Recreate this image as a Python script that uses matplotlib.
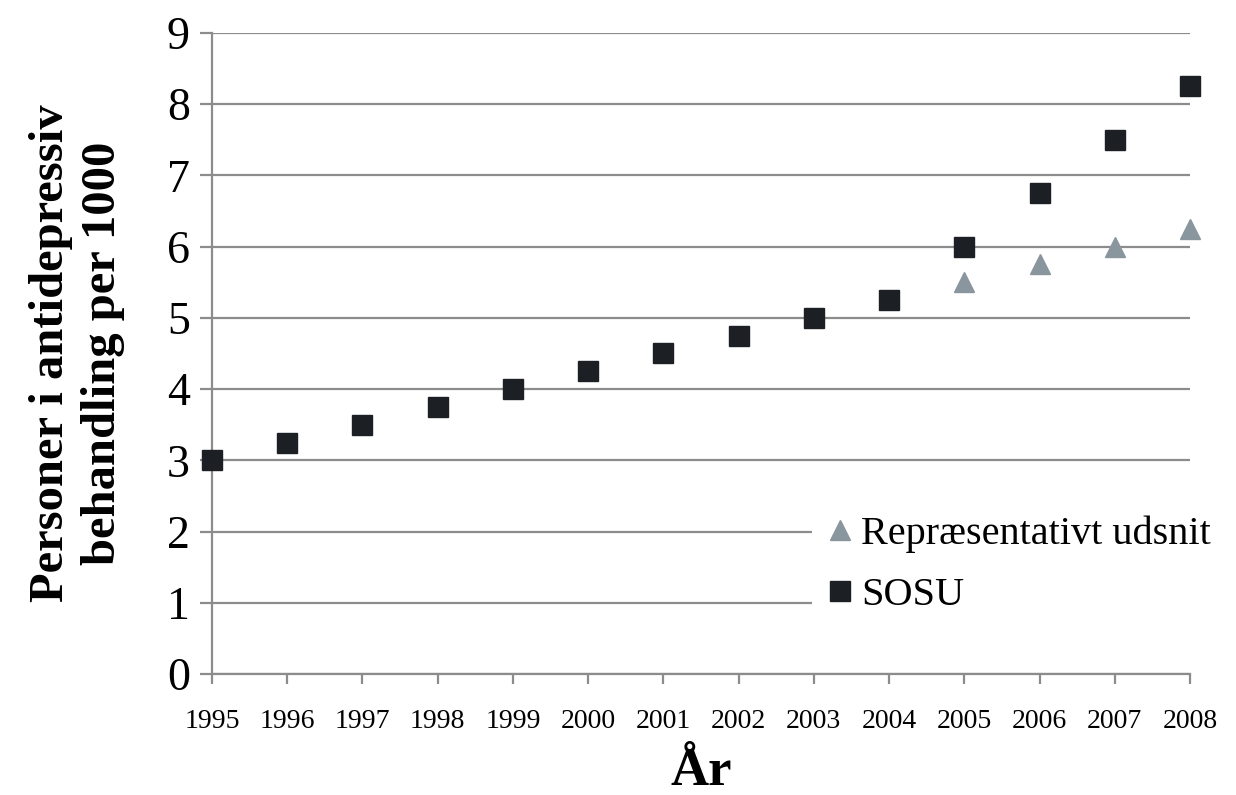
import matplotlib.pyplot as plt
import numpy as np

plt.rcParams['font.family'] = ['Liberation Serif', 'DejaVu Serif']

years = np.arange(1995, 2009)
sosu = [3.0, 3.25, 3.5, 3.75, 4.0, 4.25, 4.5, 4.75, 5.0, 5.25, 6.0, 6.75, 7.5, 8.25]
rep_years = [2005, 2006, 2007, 2008]
rep = [5.5, 5.75, 6.0, 6.25]

grid_col = '#8c8c8c'

fig = plt.figure(figsize=(12.36, 7.95), dpi=100)
ax = fig.add_axes([0.1715, 0.1522, 0.7913, 0.8063])

ax.plot(rep_years, rep, linestyle='none', marker='^', markersize=15,
        color='#8a969e', label='Repræsentativt udsnit', clip_on=False, zorder=3)
ax.plot(years, sosu, linestyle='none', marker='s', markersize=14,
        color='#1c2024', label='SOSU', clip_on=False, zorder=4)

ax.set_xlim(1995, 2008)
ax.set_ylim(0, 9)
ax.set_xticks(years)
ax.set_yticks(range(0, 10))
ax.yaxis.grid(True, color=grid_col, linewidth=1.6)
ax.set_axisbelow(True)

for s in ['top', 'right']:
    ax.spines[s].set_visible(False)
for s in ['left', 'bottom']:
    ax.spines[s].set_color(grid_col)
    ax.spines[s].set_linewidth(1.6)

ax.tick_params(axis='y', length=9, width=1.6, color=grid_col, labelsize=33, pad=7)
ax.tick_params(axis='x', length=7, width=1.6, color=grid_col, labelsize=20, pad=18)

ax.set_ylabel('Personer i antidepressiv\nbehandling per 1000', fontsize=35,
              fontweight='bold', labelpad=30, linespacing=1.25)
ax.set_xlabel('År', fontsize=38, fontweight='bold', labelpad=10)

leg = ax.legend(loc='center left', bbox_to_anchor=(812 / 1236, 1 - 565 / 795),
                bbox_transform=fig.transFigure, fontsize=29, markerscale=1.0,
                frameon=True, facecolor='white', edgecolor='none', framealpha=1,
                handletextpad=0.22, handlelength=0.6, labelspacing=0.6,
                borderpad=0.4, borderaxespad=0)
leg.get_frame().set_boxstyle('square', pad=0)

fig.savefig('out.png', dpi=100)
